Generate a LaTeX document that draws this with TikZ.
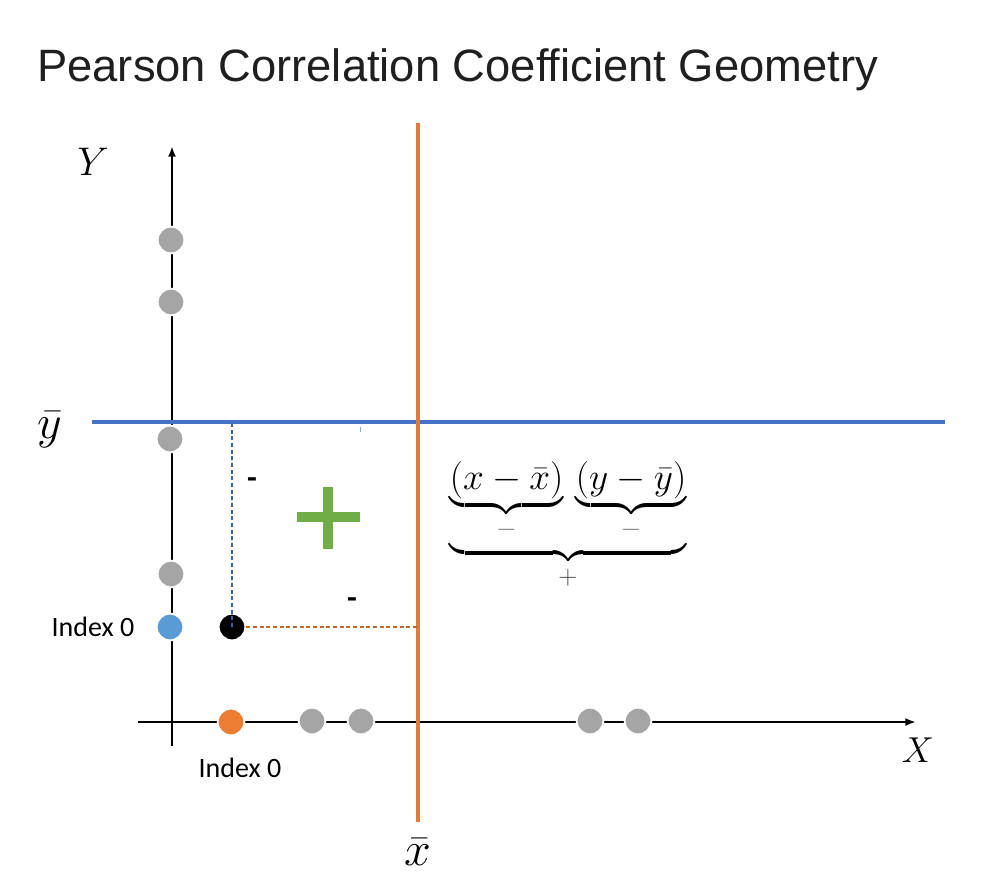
\RequirePackage{fix-cm}
\documentclass[tikz,border=0pt]{standalone}
\usepackage{fontspec}
\usepackage{amsmath}
\usetikzlibrary{arrows.meta}
\newfontfamily\titlefont{Liberation Sans}
\newfontfamily\labelfont{Carlito}
\definecolor{dotgrey}{HTML}{A5A5A5}
\definecolor{dotblue}{HTML}{5B9BD5}
\definecolor{dotorange}{HTML}{ED7D31}
\definecolor{meanblue}{HTML}{4472C4}
\definecolor{meanorange}{HTML}{E07B39}
\definecolor{plusgreen}{HTML}{70AD47}
\definecolor{titlegrey}{HTML}{1F1F1F}
\newcommand{\undersign}[2]{\hbox{\fontsize{20}{22}\selectfont$\color{#1}\vphantom{(}#2$}}
\begin{document}
\begin{tikzpicture}[x=0.75pt,y=-0.75pt,
  axisline/.style={line width=1.6pt, black},
  meanline/.style={line width=2.6pt},
  datapt/.style={circle, inner sep=0pt, minimum size=20pt, draw=white, line width=1.4pt},
  greypt/.style={datapt, fill=dotgrey},
  guide/.style={line width=0.8pt, dash pattern=on 3pt off 2pt},
  idxlabel/.style={font=\labelfont\fontsize{21}{24}\selectfont},
  signlabel/.style={font=\labelfont\bfseries\fontsize{24}{26}\selectfont},
  mathbig/.style={font=\fontsize{28}{32}\selectfont}]
\useasboundingbox (0,0) rectangle (1005,895);

% title
\node[anchor=base west, inner sep=0pt, text=titlegrey, font=\titlefont\fontsize{34}{40}\selectfont] (title) at (37,82) {Pearson Correlation Coefficient Geometry};

% axes
\coordinate (ybot) at (172,746);
\coordinate (ytop) at (172,146);
\coordinate (xleft) at (138,722);
\coordinate (xright) at (916,722);
\draw[axisline,-{Latex[length=8pt,width=6pt]}] (ybot) -- (ytop);
\draw[axisline,-{Latex[length=8pt,width=6pt]}] (xleft) -- (xright);

% mean lines
\coordinate (ybarL) at (92,422);
\coordinate (ybarR) at (945,422);
\coordinate (xbarT) at (418,123);
\coordinate (xbarB) at (418,822);
\draw[meanline, meanblue] (ybarL) -- (ybarR);
\draw[meanline, meanorange] (xbarT) -- (xbarB);
\draw[meanblue!60, line width=0.6pt] (360,427) -- (360,432);

% data points on Y axis
\node[greypt] (y1) at (171,240) {};
\node[greypt] (y2) at (171,302) {};
\node[greypt] (y3) at (170,439) {};
\node[greypt] (y4) at (171,574) {};
\node[datapt, fill=dotblue] (y0) at (170,627) {};

% data points on X axis
\node[datapt, fill=dotorange] (x0) at (231,722) {};
\node[greypt] (x1) at (312,721) {};
\node[greypt] (x2) at (361,721) {};
\node[greypt] (x3) at (590,721) {};
\node[greypt] (x4) at (638,721) {};

% the combined point
\node[datapt, fill=black] (bp) at (232,627) {};
\draw[guide, meanblue!85!black] (bp.center) -- (bp |- ybarL);
\draw[guide, meanorange!85!black] (bp.east) -- (bp -| xbarT);

% axis labels
\node[font=\fontsize{30}{34}\selectfont] (Ylab) at (93,162) {$Y$};
\node[font=\fontsize{27}{30}\selectfont] (Xlab) at (918,750) {$X$};
\node[font=\fontsize{36}{40}\selectfont] (ybarlab) at (50,430) {$\bar{y}$};
\node[font=\fontsize{36}{40}\selectfont] (xbarlab) at (418,852) {$\bar{x}$};

% index labels
\node[idxlabel, anchor=east] (idxy) at (139,627) {Index 0};
\node[idxlabel] (idxx) at (240,768) {Index 0};

% signs
\node[signlabel] (m1) at (252,483) {-};
\node[signlabel] (m2) at (352,603) {-};
\fill[plusgreen, draw=white, line width=0.8pt] (296,511) rectangle (361,523);
\fill[plusgreen, draw=white, line width=0.8pt] (322,486) rectangle (334,550);
\fill[plusgreen] (297,512) rectangle (360,522);

% formula
\node[mathbig] (formula) at (568,528) {$\underbrace{\underbrace{(x-\bar{x})}_{\undersign{gray}{-}}\,\underbrace{(y-\bar{y})}_{\undersign{gray}{-}}}_{\undersign{black!70}{+}}$};
\end{tikzpicture}
\end{document}
